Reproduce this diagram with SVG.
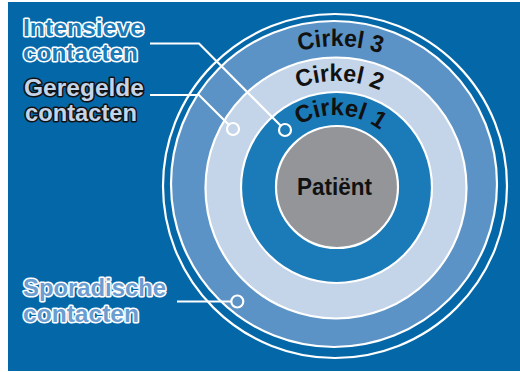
<svg xmlns="http://www.w3.org/2000/svg" width="520" height="372" viewBox="0 0 520 372">
<defs>
<style>
.lbl{font-family:"Liberation Sans",Arial,sans-serif;font-weight:bold;font-size:23px;paint-order:stroke;stroke-linejoin:round;stroke-width:3px}
.w{stroke:#fff}
.k{stroke:#111}
.ring{stroke:#fff;stroke-width:2.2}
.cl{font-family:"Liberation Sans",Arial,sans-serif;font-weight:bold;font-size:24px;fill:#111}
.lead{fill:none;stroke:#fff;stroke-width:2.2}
.dot{stroke:#fff;stroke-width:2.2}
</style>
<path id="a3" d="M 196 186 A 140 140 0 0 1 476 186"/>
<path id="a2" d="M 230 187 A 106 106 0 0 1 442 187"/>
<path id="a1" d="M 264 187 A 72 72 0 0 1 408 187"/>
</defs>
<rect x="0" y="0" width="520" height="372" fill="#fff"/>
<rect x="8" y="2" width="512" height="369" fill="#0467a8"/>

<g id="outer-ring">
<circle cx="335" cy="186" r="172" fill="none" class="ring"/>
</g>
<g id="cirkel-3">
<circle cx="334" cy="184" r="163" fill="#5b93c6" class="ring"/>
<text class="cl"><textPath href="#a3" startOffset="51%" text-anchor="middle" textLength="83" lengthAdjust="spacingAndGlyphs">Cirkel 3</textPath></text>
</g>
<g id="cirkel-2">
<circle cx="336" cy="188" r="130.5" fill="#c4d4e9" class="ring"/>
<text class="cl"><textPath href="#a2" startOffset="51%" text-anchor="middle" textLength="84" lengthAdjust="spacingAndGlyphs">Cirkel 2</textPath></text>
</g>
<g id="cirkel-1">
<circle cx="336.5" cy="187.5" r="95.5" fill="#1a7bb8" class="ring"/>
<text class="cl"><textPath href="#a1" startOffset="52%" text-anchor="middle" textLength="86" lengthAdjust="spacingAndGlyphs">Cirkel 1</textPath></text>
</g>
<g id="patient">
<circle cx="337" cy="187" r="61" fill="#939598" class="ring"/>
<text x="334.5" y="195" class="cl" style="font-size:23px" text-anchor="middle" textLength="75" lengthAdjust="spacingAndGlyphs">Patiënt</text>
</g>

<g id="connectors">
<path class="lead" d="M 150 43.5 H 199 L 280.8 125.8"/>
<circle class="dot" cx="285" cy="130" r="6" fill="#1a7bb8"/>
<path class="lead" d="M 150 95 H 199 L 228.8 124.8"/>
<circle class="dot" cx="233" cy="129" r="6" fill="#c4d4e9"/>
<path class="lead" d="M 177 301.5 H 231.3"/>
<circle class="dot" cx="237.3" cy="301.5" r="6" fill="#5b93c6"/>
</g>

<g id="label-intensieve">
<text class="lbl w" fill="#1a7bb8" x="23" y="36" textLength="121" lengthAdjust="spacingAndGlyphs">Intensieve</text>
<text class="lbl w" fill="#1a7bb8" x="23" y="61" textLength="115" lengthAdjust="spacingAndGlyphs">contacten</text>
</g>
<g id="label-geregelde">
<text class="lbl k" fill="#c4d4e9" x="24" y="96" textLength="120" lengthAdjust="spacingAndGlyphs">Geregelde</text>
<text class="lbl k" fill="#c4d4e9" x="25" y="121" textLength="112" lengthAdjust="spacingAndGlyphs">contacten</text>
</g>
<g id="label-sporadische">
<text class="lbl w" fill="#6b9dd0" x="23" y="296" textLength="143" lengthAdjust="spacingAndGlyphs">Sporadische</text>
<text class="lbl w" fill="#6b9dd0" x="23" y="322" textLength="116" lengthAdjust="spacingAndGlyphs">contacten</text>
</g>
</svg>
